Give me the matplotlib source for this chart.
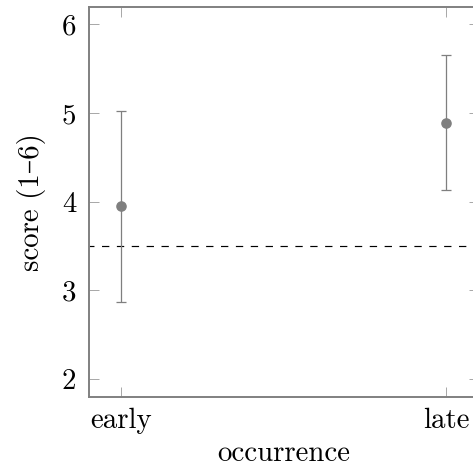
import matplotlib
matplotlib.use("Agg")
import matplotlib.pyplot as plt

categories = ["early", "late"]
means = [3.95, 4.89]
lower = [2.87, 4.13]
upper = [5.02, 5.65]
reference = 3.5
yticks = [2, 3, 4, 5, 6]

plt.rcParams['font.family'] = ['cmr10', 'DejaVu Serif']
plt.rcParams['mathtext.fontset'] = 'cm'
plt.rcParams['axes.unicode_minus'] = False

fig = plt.figure(figsize=(4.73, 4.74), dpi=100)
ax = fig.add_axes([88.7/473, 1-396.7/474, (479-88.7)/473, (396.7-6.7)/474])

x = list(range(len(categories)))
yerr = [[m - l for m, l in zip(means, lower)], [u - m for m, u in zip(means, upper)]]
ax.errorbar(x, means, yerr=yerr, fmt='o', color='#7f7f7f', ecolor='#7f7f7f',
            elinewidth=0.9, capsize=3.8, capthick=0.9, markersize=6.6, zorder=3)
ax.axhline(reference, color='black', linestyle=(2, (6.2, 6.4)), linewidth=0.85, zorder=2)

ax.set_xlim(-0.1, 1.1)
ax.set_ylim(1.8, 6.2)
ax.set_xticks(x)
ax.set_xticklabels(categories)
ax.set_yticks(yticks)
ax.set_yticklabels([str(t) for t in yticks])
ax.tick_params(direction='in', length=7, width=0.6, color='#999999',
               top=True, right=True, labelsize=20.8)
ax.tick_params(axis='x', pad=8)
ax.tick_params(axis='y', pad=9)
for s in ax.spines.values():
    s.set_color('#808080')
    s.set_linewidth(1.4)
ax.set_xlabel("occurrence", fontsize=20.8, labelpad=5)
ax.set_ylabel("score (1–6)", fontsize=20.8, labelpad=11)

fig.savefig("out.png", dpi=100)
